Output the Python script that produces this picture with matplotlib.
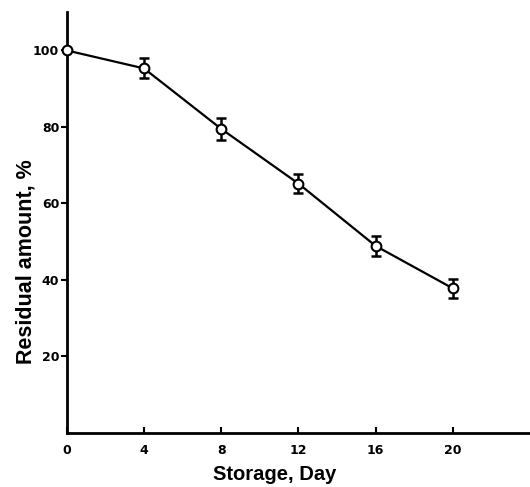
import matplotlib
matplotlib.use("Agg")
import matplotlib.pyplot as plt

days = [0, 4, 8, 12, 16, 20]
residual = [100, 95.3, 79.5, 65.2, 48.9, 37.8]
err = [0, 2.6, 2.8, 2.4, 2.6, 2.5]
xticks = [0, 4, 8, 12, 16, 20]
yticks = [20, 40, 60, 80, 100]

plt.rcParams['font.family'] = ['Liberation Sans', 'DejaVu Sans']
W, H = 530, 487
fig = plt.figure(figsize=(W / 100, H / 100), dpi=100)
ax = fig.add_axes([0.126, 0.111, 0.874, 0.864])

ax.plot(days, residual, color='black', lw=1.6, zorder=2, clip_on=False)
ax.errorbar(days[1:], residual[1:], yerr=err[1:], fmt='none', ecolor='black',
            elinewidth=1.8, capsize=3.5, capthick=1.8, zorder=3)
ax.plot(days, residual, linestyle='none', marker='o', markersize=7,
        markerfacecolor='white', markeredgecolor='black', markeredgewidth=1.5,
        zorder=4, clip_on=False)

ax.set_xlim(0, 24)
ax.set_ylim(0, 110)
ax.set_xticks(xticks)
ax.set_yticks(yticks)
tick_font = dict(fontsize=9, fontweight='bold', family='DejaVu Sans')
ax.set_xticklabels([str(t) for t in xticks], **tick_font)
ax.set_yticklabels([str(t) for t in yticks], **tick_font)
ax.tick_params(axis='x', direction='in', length=4.5, width=1.5, pad=8)
ax.tick_params(axis='y', direction='out', length=4, width=1.5, pad=1.5)

for s in ['top', 'right']:
    ax.spines[s].set_visible(False)
for s in ['left', 'bottom']:
    ax.spines[s].set_linewidth(2)

fig.text(275 / W, 1 - 475 / H, 'Storage, Day', fontsize=14.5, fontweight='bold',
         ha='center', va='center')
fig.text(26 / W, 1 - 262 / H, 'Residual amount, %', fontsize=15.5, fontweight='bold',
         ha='center', va='center', rotation=90)

fig.savefig('out.png', dpi=100)
